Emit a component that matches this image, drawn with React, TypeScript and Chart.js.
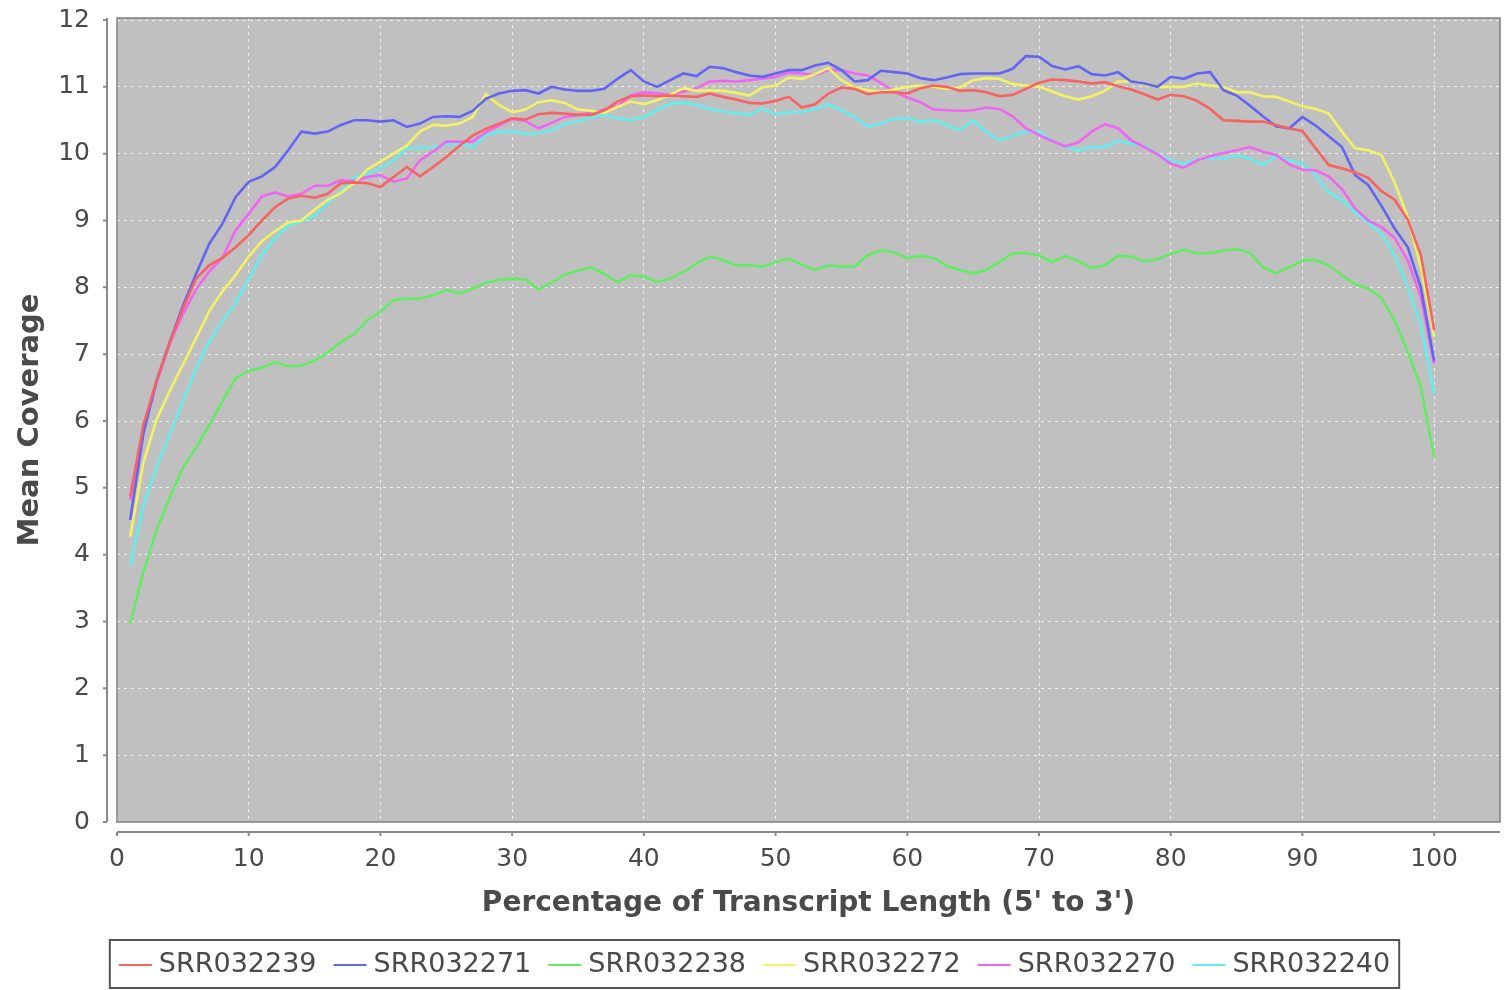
import React, { useEffect, useRef } from "react";
import { Chart, registerables } from "chart.js";

Chart.register(...registerables);

const percentPositions = [
  1, 2, 3, 4, 5, 6, 7, 8, 9, 10, 11, 12, 13, 14, 15, 16, 17, 18, 19, 20,
  21, 22, 23, 24, 25, 26, 27, 28, 29, 30, 31, 32, 33, 34, 35, 36, 37, 38, 39, 40,
  41, 42, 43, 44, 45, 46, 47, 48, 49, 50, 51, 52, 53, 54, 55, 56, 57, 58, 59, 60,
  61, 62, 63, 64, 65, 66, 67, 68, 69, 70, 71, 72, 73, 74, 75, 76, 77, 78, 79, 80,
  81, 82, 83, 84, 85, 86, 87, 88, 89, 90, 91, 92, 93, 94, 95, 96, 97, 98, 99, 100,
];

const srr032239 = [
  4.87, 5.94, 6.6, 7.17, 7.68, 8.13, 8.33, 8.44, 8.6, 8.78,
  9.0, 9.2, 9.33, 9.37, 9.34, 9.4, 9.56, 9.57, 9.56, 9.5,
  9.65, 9.8, 9.66, 9.8, 9.95, 10.12, 10.27, 10.37, 10.45, 10.53,
  10.51, 10.59, 10.61, 10.6, 10.58, 10.58, 10.65, 10.78, 10.86, 10.87,
  10.86, 10.87, 10.86, 10.85, 10.9, 10.85, 10.81, 10.76, 10.75, 10.79,
  10.85, 10.69, 10.74, 10.9, 10.99, 10.97, 10.89, 10.92, 10.92, 10.9,
  10.98, 11.02, 11.0, 10.94, 10.95, 10.92, 10.86, 10.88, 10.97, 11.06,
  11.11, 11.1, 11.08, 11.05, 11.07, 11.01, 10.96, 10.89, 10.81, 10.88,
  10.86, 10.79, 10.67, 10.5, 10.49, 10.48, 10.48, 10.43, 10.38, 10.34,
  10.08, 9.83, 9.78, 9.72, 9.64, 9.44, 9.31, 9.01, 8.48, 7.36,
];

const srr032271 = [
  4.52, 5.81, 6.6, 7.18, 7.72, 8.2, 8.65, 8.95, 9.35, 9.58,
  9.66, 9.8, 10.05, 10.33, 10.3, 10.33, 10.43, 10.5, 10.5, 10.48,
  10.5, 10.4, 10.45, 10.55, 10.56, 10.55, 10.64, 10.82, 10.9, 10.94,
  10.95, 10.9, 11.0, 10.96, 10.94, 10.94, 10.97, 11.12, 11.25, 11.08,
  11.0, 11.1, 11.2, 11.16, 11.3, 11.28, 11.22, 11.17, 11.15, 11.2,
  11.25, 11.25, 11.32, 11.36, 11.25, 11.08, 11.1, 11.24, 11.22, 11.2,
  11.13, 11.1, 11.14, 11.19, 11.2, 11.2, 11.2, 11.27, 11.46, 11.45,
  11.31, 11.26, 11.31, 11.19, 11.17, 11.22, 11.08, 11.05, 11.0, 11.15,
  11.12, 11.2, 11.22, 10.95, 10.87, 10.72, 10.56, 10.41, 10.38, 10.55,
  10.42, 10.26, 10.1, 9.68, 9.53, 9.22, 8.88, 8.6, 7.99, 6.9,
];

const srr032238 = [
  2.97, 3.74, 4.37, 4.85, 5.3, 5.6, 5.94, 6.29, 6.64, 6.75,
  6.8, 6.88, 6.82, 6.83, 6.9, 7.03, 7.18, 7.3, 7.51, 7.63,
  7.81, 7.83, 7.83, 7.88, 7.96, 7.91, 7.98, 8.07, 8.11, 8.13,
  8.12, 7.97, 8.07, 8.19, 8.25, 8.3, 8.2, 8.08, 8.18, 8.16,
  8.08, 8.13, 8.23, 8.36, 8.46, 8.41, 8.33, 8.33, 8.31, 8.38,
  8.43, 8.34, 8.26, 8.33, 8.31, 8.31, 8.48, 8.55, 8.52, 8.44,
  8.47, 8.44, 8.32, 8.26, 8.21, 8.26, 8.38, 8.51, 8.51, 8.48,
  8.38, 8.47, 8.39, 8.29, 8.33, 8.47, 8.46, 8.39, 8.42, 8.5,
  8.56, 8.51, 8.51, 8.55, 8.57, 8.52, 8.3, 8.21, 8.3, 8.4,
  8.41, 8.33, 8.18, 8.05, 7.98, 7.84, 7.5, 7.04, 6.5, 5.46,
];

const srr032272 = [
  4.27, 5.37, 6.02, 6.45, 6.84, 7.24, 7.64, 7.94, 8.18, 8.46,
  8.69, 8.84, 8.97, 9.0, 9.16, 9.31, 9.41, 9.56, 9.76, 9.88,
  10.0, 10.12, 10.33, 10.43, 10.42, 10.45, 10.55, 10.89, 10.73, 10.62,
  10.66, 10.77, 10.8, 10.76, 10.66, 10.64, 10.61, 10.7, 10.78, 10.74,
  10.8, 10.88, 10.98, 10.94, 10.95, 10.94, 10.91, 10.87, 10.99, 11.02,
  11.14, 11.12, 11.19, 11.28, 11.1, 10.99, 10.95, 10.93, 10.96, 11.0,
  11.02, 11.0, 10.97, 10.99, 11.1, 11.13, 11.12, 11.04, 11.02, 11.0,
  10.93, 10.86, 10.81, 10.86, 10.94, 11.08, 11.08, 11.04, 11.0, 11.0,
  11.0, 11.05, 11.02, 11.0, 10.92, 10.92, 10.86, 10.85, 10.78, 10.71,
  10.67, 10.6, 10.33, 10.08, 10.05, 9.98, 9.57, 9.05, 8.3, 7.26,
];

const srr032270 = [
  4.82, 5.86, 6.57, 7.16, 7.6, 7.97, 8.24, 8.44, 8.85, 9.1,
  9.36, 9.42, 9.36, 9.4, 9.52, 9.52, 9.6, 9.59, 9.65, 9.68,
  9.58, 9.63, 9.9, 10.03, 10.18, 10.18, 10.18, 10.32, 10.42, 10.52,
  10.49, 10.38, 10.46, 10.55, 10.58, 10.61, 10.66, 10.71, 10.87, 10.92,
  10.9, 10.88, 10.93, 10.98, 11.08, 11.09, 11.08, 11.1, 11.12, 11.15,
  11.21, 11.2, 11.18, 11.25, 11.25, 11.2, 11.17, 11.06, 10.93, 10.84,
  10.77, 10.66, 10.65, 10.64, 10.65, 10.69, 10.67, 10.56, 10.38, 10.28,
  10.19, 10.11, 10.17, 10.33, 10.44, 10.38, 10.2, 10.1, 9.99, 9.85,
  9.79, 9.9, 9.96, 10.01, 10.05, 10.1, 10.03, 9.98, 9.84, 9.76,
  9.75, 9.66, 9.47, 9.18, 9.0, 8.9, 8.74, 8.4, 7.85, 6.86,
];

const srr032240 = [
  3.84, 4.74, 5.31, 5.8, 6.29, 6.78, 7.19, 7.49, 7.77, 8.12,
  8.49, 8.74, 8.92, 8.99, 9.07, 9.26, 9.43, 9.65, 9.7, 9.78,
  9.9, 10.08, 10.08, 10.1, 10.14, 10.15, 10.1, 10.27, 10.33, 10.33,
  10.3, 10.31, 10.35, 10.44, 10.49, 10.54, 10.58, 10.53, 10.5, 10.55,
  10.65, 10.75, 10.76, 10.73, 10.67, 10.63, 10.6, 10.58, 10.67, 10.59,
  10.62, 10.62, 10.67, 10.74, 10.65, 10.55, 10.41, 10.45, 10.52, 10.53,
  10.48, 10.5, 10.43, 10.35, 10.5, 10.32, 10.2, 10.27, 10.33, 10.33,
  10.2, 10.1, 10.05, 10.1, 10.1, 10.19, 10.15, 10.12, 10.0, 9.9,
  9.85, 9.91, 9.94, 9.93, 9.98, 9.92, 9.83, 9.97, 9.9, 9.85,
  9.68, 9.42, 9.31, 9.12, 8.97, 8.8, 8.48, 8.0, 7.43, 6.41,
];

const seriesNames = ["SRR032239", "SRR032271", "SRR032238", "SRR032272", "SRR032270", "SRR032240"];
const seriesValues = [srr032239, srr032271, srr032238, srr032272, srr032270, srr032240];
const seriesColors = ["#f86262", "#6464f2", "#62ec62", "#f2f264", "#f264f2", "#62eeee"];

const yTickValues = [0, 1, 2, 3, 4, 5, 6, 7, 8, 9, 10, 11, 12];
const xTickValues = [0, 10, 20, 30, 40, 50, 60, 70, 80, 90, 100];

const xTitle = "Percentage of Transcript Length (5' to 3')";
const yTitle = "Mean Coverage";

const FONT = '"DejaVu Sans", "Liberation Sans", sans-serif';
const TEXT_COLOR = "#4a4a4a";
const GRID_COLOR = "rgba(255,255,255,0.75)";

const framePlugin = {
  id: "framePlugin",
  beforeDraw(chart: any) {
    const { ctx, chartArea: a } = chart;
    ctx.save();
    ctx.fillStyle = "#c0c0c0";
    ctx.fillRect(a.left, a.top, a.right - a.left, a.bottom - a.top);
    ctx.restore();
  },
  afterDraw(chart: any) {
    const { ctx, chartArea: a } = chart;
    const xs = chart.scales.x;
    const ys = chart.scales.y;
    ctx.save();
    // plot outline
    ctx.strokeStyle = "#808080";
    ctx.lineWidth = 1.5;
    ctx.strokeRect(a.left, a.top, a.right - a.left, a.bottom - a.top);

    // offset axis lines with tick marks
    ctx.strokeStyle = "#8a8a8a";
    ctx.lineWidth = 2;
    const axX = a.left - 10;
    ctx.beginPath();
    ctx.moveTo(axX, a.top);
    ctx.lineTo(axX, a.bottom);
    yTickValues.forEach((v) => {
      const py = ys.getPixelForValue(v);
      ctx.moveTo(axX - 4, py);
      ctx.lineTo(axX, py);
    });
    const axY = a.bottom + 10;
    ctx.moveTo(a.left, axY);
    ctx.lineTo(a.right, axY);
    xTickValues.forEach((v) => {
      const px = xs.getPixelForValue(v);
      ctx.moveTo(px, axY);
      ctx.lineTo(px, axY + 4);
    });
    ctx.stroke();

    // legend
    ctx.font = `27px ${FONT}`;
    ctx.textBaseline = "middle";
    ctx.textAlign = "left";
    const lineLen = 33;
    const gapText = 7;
    const gapItem = 17;
    const padX = 9;
    const widths = seriesNames.map((n) => ctx.measureText(n).width);
    let total = padX * 2 + gapItem * (seriesNames.length - 1);
    widths.forEach((w) => (total += lineLen + gapText + w));
    let x = (chart.width - total) / 2;
    const boxTop = 940;
    const boxH = 48;
    ctx.strokeStyle = "#555555";
    ctx.lineWidth = 2;
    ctx.strokeRect(x, boxTop, total, boxH);
    x += padX;
    const cy = boxTop + boxH / 2 + 1;
    seriesNames.forEach((n, i) => {
      ctx.strokeStyle = seriesColors[i];
      ctx.lineWidth = 2;
      ctx.beginPath();
      ctx.moveTo(x, cy);
      ctx.lineTo(x + lineLen, cy);
      ctx.stroke();
      ctx.fillStyle = TEXT_COLOR;
      ctx.fillText(n, x + lineLen + gapText, cy);
      x += lineLen + gapText + widths[i] + gapItem;
    });
    ctx.restore();
  },
};

export default function App() {
  const canvasRef = useRef<HTMLCanvasElement | null>(null);

  useEffect(() => {
    if (!canvasRef.current) return;
    const datasets = seriesNames.map((name, i) => ({
      label: name,
      data: percentPositions.map((p, j) => ({ x: p, y: seriesValues[i][j] })),
      borderColor: seriesColors[i],
      backgroundColor: seriesColors[i],
      borderWidth: 2.6,
      pointRadius: 0,
      tension: 0,
      fill: false,
    }));

    const chart = new Chart(canvasRef.current, {
      type: "line",
      data: { datasets },
      plugins: [framePlugin],
      options: {
        animation: false,
        responsive: true,
        maintainAspectRatio: false,
        layout: { padding: { left: 0, top: 18, right: 9, bottom: 68 } },
        plugins: {
          legend: { display: false },
          tooltip: { enabled: false },
        },
        scales: {
          x: {
            type: "linear",
            min: 0,
            max: 105,
            afterFit(scale: any) {
              scale.height = 100;
              scale.paddingLeft = 0;
              scale.paddingRight = 0;
            },
            afterBuildTicks(scale: any) {
              scale.ticks = xTickValues.map((v) => ({ value: v }));
            },
            ticks: {
              padding: 22,
              color: TEXT_COLOR,
              font: { family: FONT, size: 25 },
              maxRotation: 0,
              autoSkip: false,
            },
            grid: {
              drawTicks: false,
              color: GRID_COLOR,
              lineWidth: 1,
            },
            border: { display: false, dash: [3, 4] },
            title: {
              display: true,
              text: xTitle,
              color: TEXT_COLOR,
              font: { family: FONT, size: 28, weight: "bold" },
              padding: { top: 0, bottom: 1 },
            },
          },
          y: {
            type: "linear",
            min: 0,
            max: 12.03,
            afterFit(scale: any) {
              scale.width = 117;
              scale.paddingTop = 0;
              scale.paddingBottom = 0;
            },
            afterBuildTicks(scale: any) {
              scale.ticks = yTickValues.map((v) => ({ value: v }));
            },
            ticks: {
              padding: 27,
              color: TEXT_COLOR,
              font: { family: FONT, size: 25 },
              autoSkip: false,
            },
            grid: {
              drawTicks: false,
              color: GRID_COLOR,
              lineWidth: 1,
            },
            border: { display: false, dash: [3, 4] },
            title: {
              display: true,
              text: yTitle,
              color: TEXT_COLOR,
              font: { family: FONT, size: 29, weight: "bold" },
              padding: { top: 13, bottom: 0 },
            },
          },
        },
      },
    });
    return () => chart.destroy();
  }, []);

  return (
    <div style={{ position: "fixed", left: 0, top: 0, width: 1509, height: 990, background: "#ffffff" }}>
      <canvas ref={canvasRef} style={{ width: "100%", height: "100%" }} />
    </div>
  );
}
